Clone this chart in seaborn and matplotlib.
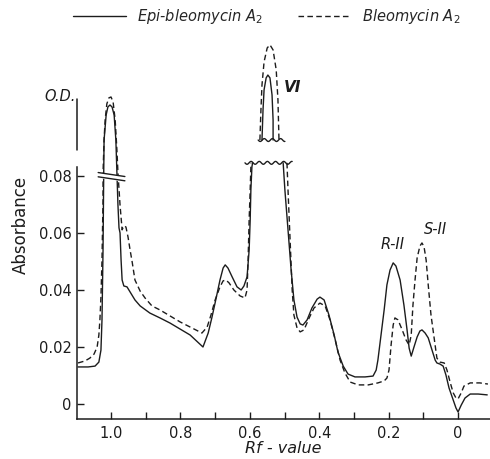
import numpy as np
import pandas as pd
import seaborn as sns
import matplotlib.pyplot as plt

sns.set_theme(style="ticks")
plt.rcParams['font.family'] = ['DejaVu Sans']

# Epi-bleomycin A2 (solid) - Rf value / absorbance, split where the axis is broken
epi_rf_low = [1.095, 1.066, 1.046, 1.035, 1.029, 1.026, 1.023, 1.021, 1.020, 1.014, 1.009,
              1.003, 0.997, 0.991, 0.986, 0.983, 0.980, 0.977, 0.974, 0.971, 0.968, 0.963,
              0.954, 0.945, 0.931, 0.916, 0.888, 0.859, 0.830, 0.801, 0.772, 0.735, 0.720,
              0.709, 0.697, 0.686, 0.677, 0.671, 0.663, 0.651, 0.637, 0.625, 0.617, 0.608,
              0.602, 0.599, 0.597, 0.594, 0.592]
epi_abs_low = [0.0130, 0.0130, 0.0133, 0.0147, 0.0189, 0.0295, 0.0540, 0.0811, 0.0926, 0.1014, 0.1042,
               0.1049, 0.1042, 0.1014, 0.0926, 0.0811, 0.0698, 0.0618, 0.0600, 0.0505, 0.0435, 0.0414,
               0.0411, 0.0393, 0.0365, 0.0344, 0.0319, 0.0302, 0.0284, 0.0263, 0.0242, 0.0200, 0.0249,
               0.0305, 0.0372, 0.0435, 0.0477, 0.0488, 0.0477, 0.0446, 0.0411, 0.0400, 0.0414, 0.0446,
               0.0540, 0.0646, 0.0751, 0.0832, 0.0846]
epi_rf_vi = [0.565, 0.562, 0.559, 0.553, 0.548, 0.542, 0.536, 0.533, 0.533]
epi_abs_vi = [0.0926, 0.1032, 0.1102, 0.1144, 0.1154, 0.1144, 0.1084, 0.0996, 0.0926]
epi_rf_tail = [0.504, 0.499, 0.490, 0.481, 0.473, 0.464, 0.455, 0.447, 0.435, 0.421, 0.406,
               0.398, 0.386, 0.372, 0.357, 0.346, 0.331, 0.317, 0.297, 0.268, 0.245, 0.236,
               0.231, 0.222, 0.213, 0.205, 0.196, 0.187, 0.179, 0.167, 0.156, 0.147, 0.141,
               0.135, 0.127, 0.118, 0.110, 0.104, 0.095, 0.086, 0.075, 0.066, 0.061, 0.052,
               0.043, 0.035, 0.026, 0.014, 0.006, 0.000, -0.009, -0.020, -0.035, -0.058, -0.084]
epi_abs_tail = [0.0846, 0.0751, 0.0611, 0.0470, 0.0365, 0.0305, 0.0281, 0.0277, 0.0295, 0.0337, 0.0368,
                0.0375, 0.0365, 0.0312, 0.0242, 0.0182, 0.0133, 0.0105, 0.0095, 0.0095, 0.0098, 0.0119,
                0.0154, 0.0242, 0.0330, 0.0418, 0.0470, 0.0495, 0.0484, 0.0435, 0.0347, 0.0260, 0.0196,
                0.0168, 0.0200, 0.0235, 0.0256, 0.0260, 0.0249, 0.0232, 0.0189, 0.0154, 0.0144, 0.0140,
                0.0133, 0.0102, 0.0056, 0.0014, -0.0014, -0.0028, -0.0004, 0.0021, 0.0035, 0.0035, 0.0032]

# Bleomycin A2 (dashed)
bleo_rf_low = [1.095, 1.075, 1.061, 1.049, 1.040, 1.035, 1.032, 1.029, 1.026, 1.023, 1.023,
               1.020, 1.017, 1.012, 1.006, 1.000, 0.994, 0.988, 0.983, 0.980, 0.974, 0.968,
               0.963, 0.957, 0.951, 0.945, 0.939, 0.931, 0.916, 0.902, 0.882, 0.859, 0.830,
               0.801, 0.772, 0.738, 0.723, 0.712, 0.700, 0.686, 0.677, 0.669, 0.660, 0.646,
               0.628, 0.614, 0.608, 0.605, 0.602, 0.599, 0.597, 0.597]
bleo_abs_low = [0.0144, 0.0151, 0.0161, 0.0175, 0.0200, 0.0242, 0.0295, 0.0375, 0.0505, 0.0716, 0.0811,
                0.0926, 0.0996, 0.1053, 0.1074, 0.1077, 0.1060, 0.0996, 0.0891, 0.0811, 0.0698, 0.0611,
                0.0625, 0.0621, 0.0586, 0.0540, 0.0498, 0.0435, 0.0396, 0.0372, 0.0344, 0.0330, 0.0309,
                0.0288, 0.0270, 0.0249, 0.0270, 0.0312, 0.0365, 0.0411, 0.0432, 0.0435, 0.0425, 0.0400,
                0.0379, 0.0372, 0.0400, 0.0505, 0.0646, 0.0751, 0.0832, 0.0846]
bleo_rf_vi = [0.571, 0.568, 0.565, 0.559, 0.550, 0.542, 0.533, 0.524, 0.519, 0.516]
bleo_abs_vi = [0.0926, 0.1032, 0.1119, 0.1200, 0.1249, 0.1260, 0.1242, 0.1172, 0.1067, 0.0926]
bleo_rf_tail = [0.493, 0.490, 0.484, 0.478, 0.473, 0.464, 0.455, 0.444, 0.429, 0.415, 0.398,
                0.383, 0.369, 0.354, 0.340, 0.326, 0.311, 0.288, 0.259, 0.231, 0.213, 0.205,
                0.199, 0.193, 0.187, 0.182, 0.173, 0.161, 0.150, 0.141, 0.135, 0.130, 0.124,
                0.118, 0.110, 0.104, 0.098, 0.092, 0.086, 0.078, 0.069, 0.061, 0.052, 0.040,
                0.032, 0.023, 0.014, 0.006, 0.000, -0.009, -0.017, -0.035, -0.063, -0.086]
bleo_abs_tail = [0.0846, 0.0751, 0.0575, 0.0400, 0.0312, 0.0267, 0.0253, 0.0260, 0.0302, 0.0337, 0.0354,
                 0.0344, 0.0295, 0.0225, 0.0154, 0.0109, 0.0077, 0.0067, 0.0067, 0.0074, 0.0081, 0.0091,
                 0.0119, 0.0207, 0.0277, 0.0302, 0.0295, 0.0260, 0.0225, 0.0207, 0.0242, 0.0347, 0.0435,
                 0.0512, 0.0554, 0.0565, 0.0551, 0.0505, 0.0418, 0.0312, 0.0232, 0.0161, 0.0147, 0.0144,
                 0.0119, 0.0077, 0.0039, 0.0021, 0.0018, 0.0039, 0.0063, 0.0074, 0.0074, 0.0070]

EPI = "Epi-bleomycin A$_2$"
BLEO = "Bleomycin A$_2$"

segments = [
    (EPI, "e1", epi_rf_low, epi_abs_low),
    (EPI, "e2", epi_rf_vi, epi_abs_vi),
    (EPI, "e3", epi_rf_tail, epi_abs_tail),
    (BLEO, "b1", bleo_rf_low, bleo_abs_low),
    (BLEO, "b2", bleo_rf_vi, bleo_abs_vi),
    (BLEO, "b3", bleo_rf_tail, bleo_abs_tail),
]
frames = []
for name, seg, rf, ab in segments:
    frames.append(pd.DataFrame({"rf": rf, "abs": ab, "series": name, "seg": seg}))
df = pd.concat(frames, ignore_index=True)

fig = plt.figure(figsize=(4.9, 4.59), dpi=100)
ax = fig.add_axes([77 / 490, 40 / 459, 413 / 490, 389 / 459])

ink = "#1c1c1c"
sns.lineplot(data=df, x="rf", y="abs", style="series", units="seg", estimator=None,
             sort=False, dashes={EPI: "", BLEO: (4, 2.4)}, color=ink, linewidth=1.0, ax=ax)

ax.set_xlim(1.098, -0.092)
ax.set_ylim(-0.00526, 0.1312)

# break symbol on the Rf 1.0 peak
bx = np.array([1.037, 0.960])
ax.fill_between(bx, [0.0812, 0.0798], [0.0797, 0.0783], color="white", zorder=3)
ax.plot(bx, [0.0812, 0.0798], color=ink, lw=1.0, zorder=4)
ax.plot(bx, [0.0797, 0.0783], color=ink, lw=1.0, zorder=4)

# wavy break lines on peak VI
wx = np.linspace(0.576, 0.499, 60)
ax.plot(wx, 0.0926 + 0.0005 * np.sin((wx - 0.576) / 0.0235 * 2 * np.pi), color=ink, lw=1.0)
wx = np.linspace(0.614, 0.478, 100)
ax.plot(wx, 0.0846 + 0.0005 * np.sin((wx - 0.614) / 0.0235 * 2 * np.pi), color=ink, lw=1.0)

# O.D. scale bar above the broken axis
ax.plot([1.098, 1.098], [0.089, 0.107], color=ink, lw=1.1, clip_on=False)
ax.text(1.147, 0.1077, "O.D.", ha="center", va="center", fontsize=10.5,
        style="italic", color=ink, clip_on=False)

ax.text(0.478, 0.111, "VI", ha="center", va="center", fontsize=11,
        style="italic", weight="bold", color=ink)
ax.text(0.187, 0.0558, "R-II", ha="center", va="center", fontsize=10.5,
        style="italic", color=ink)
ax.text(0.066, 0.0612, "S-II", ha="center", va="center", fontsize=10.5,
        style="italic", color=ink)

ax.set_xticks([1.0, 0.8, 0.6, 0.4, 0.2, 0.0])
ax.set_xticklabels(["1.0", "0.8", "0.6", "0.4", "0.2", "0"])
ax.set_xticks([0.9, 0.7, 0.5, 0.3, 0.1], minor=True)
ax.set_yticks([0, 0.02, 0.04, 0.06, 0.08])
ax.set_yticklabels(["0", "0.02", "0.04", "0.06", "0.08"])
ax.tick_params(axis="both", which="both", direction="in", length=5, width=1.0,
               colors=ink, labelsize=10.5)
ax.tick_params(axis="x", pad=5)
ax.tick_params(axis="y", pad=4)

ax.set_xlabel("Rf - value", fontsize=11.5, style="italic", color=ink, labelpad=0)
ax.set_ylabel("Absorbance", fontsize=12, color=ink, labelpad=6)

sns.despine(ax=ax)
ax.spines["left"].set_bounds(-0.00526, 0.083)
for s in ("left", "bottom"):
    ax.spines[s].set_linewidth(1.1)
    ax.spines[s].set_color(ink)

handles, labels = ax.get_legend_handles_labels()
ax.legend(handles, labels, loc="center", bbox_to_anchor=(267 / 490, 1 - 17 / 459),
          bbox_transform=fig.transFigure, ncol=2, frameon=False, handlelength=3.6,
          handletextpad=0.8, columnspacing=2.4, prop={"size": 10.5, "style": "italic"})

fig.savefig("out.png", dpi=100, facecolor="white")
